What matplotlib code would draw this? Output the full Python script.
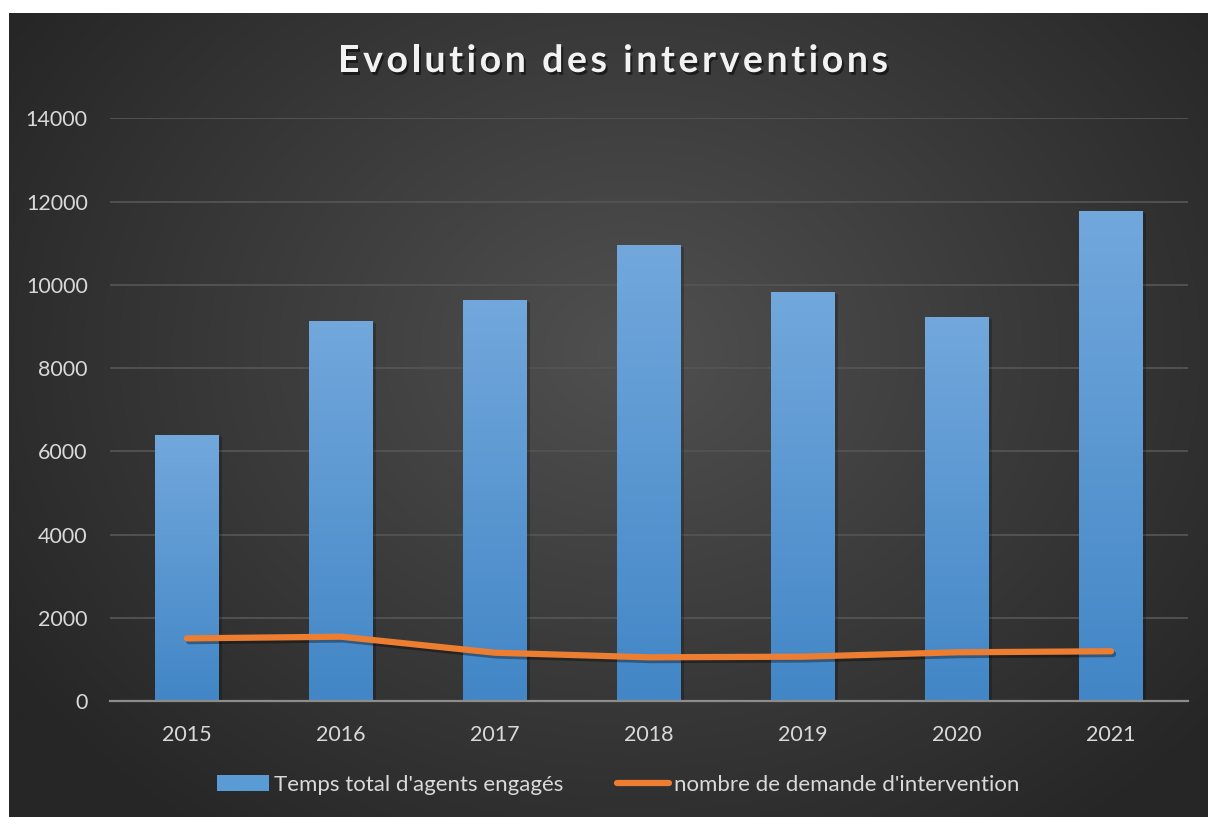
import numpy as np
import matplotlib
matplotlib.use("Agg")
import matplotlib.pyplot as plt
import matplotlib.patheffects as pe
from matplotlib.patches import Rectangle
from matplotlib.lines import Line2D
from matplotlib.font_manager import findfont, FontProperties
from matplotlib.ft2font import FT2Font

years = ["2015", "2016", "2017", "2018", "2019", "2020", "2021"]
temps_total = [6390, 9130, 9635, 10955, 9825, 9225, 11770]
nb_demandes = [1505, 1545, 1160, 1050, 1065, 1170, 1195]
title = "Evolution des interventions"
bar_label = "Temps total d'agents engagés"
line_label = "nombre de demande d'intervention"

plt.rcParams['font.family'] = ['Lato', 'DejaVu Sans']

W, H = 1208, 817
DPI = 100
fig = plt.figure(figsize=(W / DPI, H / DPI), dpi=DPI)
fig.patch.set_facecolor('white')

# background with radial gradient
bg = fig.add_axes([9 / W, 0, 1 - 9 / W, 1 - 13 / H])
bg.set_axis_off()
ny, nx = 400, 600
yy, xx = np.mgrid[0:ny, 0:nx]
cx, cy = nx * 0.52, ny * 0.42
r = np.sqrt(((xx - cx) / (nx * 0.62)) ** 2 + ((yy - cy) / (ny * 0.75)) ** 2)
r = np.clip(r, 0, 1)
inner = np.array([0x50, 0x50, 0x50]) / 255
outer = np.array([0x26, 0x26, 0x26]) / 255
img = inner[None, None, :] * (1 - r[..., None]) + outer[None, None, :] * r[..., None]
bg.imshow(img, aspect='auto', extent=[0, 1, 0, 1], origin='upper')
bg.set_xlim(0, 1)
bg.set_ylim(0, 1)

# main axes
x0, x1 = 110, 1188
y_top, y_zero = 118.3, 701
ax = fig.add_axes([x0 / W, 1 - y_zero / H, (x1 - x0) / W, (y_zero - y_top) / H])
ax.patch.set_alpha(0)
ax.set_yticks(np.arange(0, 14001, 2000))
ax.set_xticks(range(len(years)))
ax.set_xticklabels(years)
for s in ['top', 'right', 'left']:
    ax.spines[s].set_visible(False)
ax.spines['bottom'].set_color('#8c8c8c')
ax.spines['bottom'].set_linewidth(1.6)
ax.tick_params(axis='both', length=0, colors='#d9d9d9', labelsize=15.5)
ax.tick_params(axis='x', pad=17)
ax.tick_params(axis='y', pad=16)
ax.grid(axis='y', color='#545454', linewidth=1.3)
ax.set_axisbelow(True)

xs = np.arange(len(years))
bars = ax.bar(xs, temps_total, width=0.41, color='#5b9bd5', zorder=2)

# gradient fill on bars
grad = np.linspace(0, 1, 256)[:, None]
top_c = np.array([0x72, 0xa8, 0xdc]) / 255
bot_c = np.array([0x42, 0x86, 0xc6]) / 255
gimg = top_c[None, None, :] * (1 - grad[..., None]) + bot_c[None, None, :] * grad[..., None]
for b in bars:
    b.set_path_effects([pe.SimplePatchShadow(offset=(2.5, -1.5), shadow_rgbFace='black', alpha=0.22), pe.Normal()])
    bx, by = b.get_x(), b.get_y()
    bw, bh = b.get_width(), b.get_height()
    im = ax.imshow(gimg, extent=[bx, bx + bw, by, by + bh], aspect='auto', zorder=2.5, origin='upper')
    im.set_clip_path(b)
ax.set_xlim(-0.5, len(years) - 0.5)
ax.set_ylim(0, 14000)

ax.plot(xs, nb_demandes, color='#ed7d31', linewidth=4.5, solid_capstyle='round',
        solid_joinstyle='round', zorder=4,
        path_effects=[pe.SimpleLineShadow(offset=(1.5, -2), shadow_color='black', alpha=0.35), pe.Normal()])

# title with letter spacing
tsize = 27
fp = FontProperties(family='Lato', weight='bold')
ft = FT2Font(findfont(fp))
ft.set_size(tsize, DPI)
advs = [ft.load_char(ord(c)).linearHoriAdvance / 65536 for c in title]
target_w = 550
spacing = (target_w - sum(advs)) / (len(title) - 1)
start = 338
pos = start
for c, a in zip(title, advs):
    if c != ' ':
        fig.text(pos / W, 1 - 61 / H, c, ha='left', va='center', fontsize=tsize, fontweight='bold',
                 color='#f2f2f2',
                 path_effects=[pe.withSimplePatchShadow(offset=(1.5, -2), shadow_rgbFace='black', alpha=0.5)])
    pos += a + spacing

# legend
handles = [Rectangle((0, 0), 1, 1, facecolor='#5b9bd5'),
           Line2D([0], [0], color='#ed7d31', linewidth=4.5, solid_capstyle='round')]
leg = fig.legend(handles, [bar_label, line_label], loc='center', bbox_to_anchor=(618 / W, 1 - 785 / H),
                 ncol=2, frameon=False, fontsize=16, labelcolor='#d9d9d9',
                 handlelength=2.35, handleheight=0.72, handletextpad=0.22, columnspacing=2.4)

fig.savefig('out.png', dpi=DPI, facecolor=fig.get_facecolor())
